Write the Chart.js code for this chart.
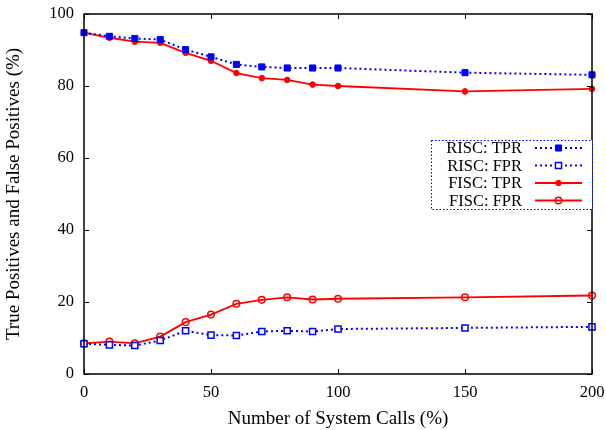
<!DOCTYPE html>
<html>
<head>
<meta charset="utf-8">
<script src="https://cdn.jsdelivr.net/npm/chart.js@4/dist/chart.umd.min.js"></script>
<style>
  html, body { margin: 0; padding: 0; background: #fff; }
  #wrap { width: 606px; height: 430px; position: relative; }
</style>
</head>
<body>
<div id="wrap"><canvas id="c"></canvas></div>
<script>
var calls = [0, 10, 20, 30, 40, 50, 60, 70, 80, 90, 100, 150, 200];
var riscTPR = [94.8, 93.8, 93.2, 92.9, 90.1, 88.1, 86.0, 85.3, 85.0, 85.0, 85.0, 83.7, 83.1];
var riscFPR = [8.4, 8.1, 7.9, 9.3, 12.0, 10.8, 10.7, 11.8, 12.0, 11.8, 12.5, 12.8, 13.1];
var fiscTPR = [94.8, 93.4, 92.3, 92.0, 89.2, 87.0, 83.6, 82.2, 81.7, 80.4, 80.0, 78.5, 79.2];
var fiscFPR = [8.5, 9.0, 8.5, 10.4, 14.4, 16.5, 19.5, 20.6, 21.3, 20.7, 20.9, 21.3, 21.8];
var xTicks = [0, 50, 100, 150, 200];
var yTicks = [0, 20, 40, 60, 80, 100];

var FONT = '"Liberation Serif", "DejaVu Serif", serif';

function pts(vals) {
    return calls.map(function (x, i) { return {x: x, y: vals[i]}; });
}

// gnuplot style frame with inward ticks on all four sides
var framePlugin = {
    id: 'frame',
    afterDatasetsDraw: function (chart) {
        var ctx = chart.ctx, a = chart.chartArea;
        var sx = chart.scales.x, sy = chart.scales.y;
        var len = 5;
        ctx.save();
        ctx.strokeStyle = '#000';
        ctx.lineWidth = 1.5;
        ctx.strokeRect(a.left, a.top, a.right - a.left, a.bottom - a.top);
        ctx.lineWidth = 1;
        ctx.beginPath();
        xTicks.forEach(function (v) {
            var px = Math.round(sx.getPixelForValue(v)) + 0.5;
            ctx.moveTo(px, a.bottom); ctx.lineTo(px, a.bottom - len);
            ctx.moveTo(px, a.top); ctx.lineTo(px, a.top + len);
        });
        yTicks.forEach(function (v) {
            var py = Math.round(sy.getPixelForValue(v)) + 0.5;
            ctx.moveTo(a.left, py); ctx.lineTo(a.left + len, py);
            ctx.moveTo(a.right, py); ctx.lineTo(a.right - len, py);
        });
        ctx.stroke();
        ctx.restore();
    }
};

// key box like the original, drawn from the dataset styles
var keyPlugin = {
    id: 'key',
    afterDraw: function (chart) {
        var ctx = chart.ctx;
        var box = {x: 431, y: 140, w: 161, h: 69};
        ctx.save();
        ctx.fillStyle = '#fff';
        ctx.fillRect(box.x, box.y, box.w, box.h);
        ctx.strokeStyle = '#0000ff';
        ctx.lineWidth = 1;
        ctx.setLineDash([1.5, 2]);
        ctx.strokeRect(box.x + 0.5, box.y + 0.5, box.w, box.h);
        ctx.setLineDash([]);
        ctx.font = '16.5px ' + FONT;
        ctx.textAlign = 'right';
        ctx.textBaseline = 'middle';
        chart.data.datasets.forEach(function (ds, i) {
            var y = 148 + i * 17.5;
            ctx.fillStyle = '#000';
            ctx.fillText(ds.label, 522, y + 1);
            ctx.strokeStyle = ds.borderColor;
            ctx.lineWidth = ds.borderWidth;
            ctx.setLineDash(ds.borderDash || []);
            ctx.beginPath();
            ctx.moveTo(535, y); ctx.lineTo(582, y);
            ctx.stroke();
            ctx.setLineDash([]);
            var cx = 558.5, r = ds.pointRadius;
            ctx.lineWidth = ds.pointBorderWidth;
            ctx.strokeStyle = ds.pointBorderColor;
            ctx.fillStyle = ds.pointBackgroundColor;
            ctx.beginPath();
            if (ds.pointStyle === 'rect') {
                var s = r * Math.SQRT2 / 2;
                ctx.rect(cx - s, y - s, 2 * s, 2 * s);
            } else {
                ctx.arc(cx, y, r, 0, Math.PI * 2);
            }
            ctx.fill();
            ctx.stroke();
        });
        ctx.restore();
    }
};

new Chart(document.getElementById('c'), {
    type: 'line',
    data: {
        datasets: [
            {
                label: 'RISC: TPR', data: pts(riscTPR),
                borderColor: '#0000ff', borderWidth: 2, borderDash: [2, 3],
                pointStyle: 'rect', pointRadius: 4.3, pointBorderWidth: 1,
                pointBackgroundColor: '#0000ff', pointBorderColor: '#0000ff'
            },
            {
                label: 'RISC: FPR', data: pts(riscFPR),
                borderColor: '#0000ff', borderWidth: 2, borderDash: [2, 3],
                pointStyle: 'rect', pointRadius: 4.3, pointBorderWidth: 1.5,
                pointBackgroundColor: '#fff', pointBorderColor: '#0000ff'
            },
            {
                label: 'FISC: TPR', data: pts(fiscTPR),
                borderColor: '#ff0000', borderWidth: 1.8,
                pointStyle: 'circle', pointRadius: 2.8, pointBorderWidth: 1,
                pointBackgroundColor: '#ff0000', pointBorderColor: '#ff0000'
            },
            {
                label: 'FISC: FPR', data: pts(fiscFPR),
                borderColor: '#ff0000', borderWidth: 1.8,
                pointStyle: 'circle', pointRadius: 3.3, pointBorderWidth: 1.5,
                pointBackgroundColor: 'rgba(255,255,255,0)', pointBorderColor: '#ff0000'
            }
        ]
    },
    options: {
        responsive: true,
        maintainAspectRatio: false,
        animation: false,
        layout: {autoPadding: false, padding: {left: 0, right: 14, top: 14, bottom: 0}},
        elements: {line: {tension: 0}},
        plugins: {legend: {display: false}, tooltip: {enabled: false}},
        datasets: {line: {clip: false}},
        scales: {
            x: {
                type: 'linear', min: 0, max: 200,
                grid: {display: false, drawTicks: false},
                border: {display: false},
                afterBuildTicks: function (s) { s.ticks = xTicks.map(function (v) { return {value: v}; }); },
                afterFit: function (s) { s.height = 56; s.paddingRight = 0; s.paddingLeft = 0; },
                ticks: {color: '#000', padding: 9, maxRotation: 0, font: {family: FONT, size: 16.5}},
                title: {display: true, text: 'Number of System Calls (%)', color: '#000', padding: {top: 2, bottom: 0}, font: {family: FONT, size: 19}}
            },
            y: {
                min: 0, max: 100,
                grid: {display: false, drawTicks: false},
                border: {display: false},
                afterBuildTicks: function (s) { s.ticks = yTicks.map(function (v) { return {value: v}; }); },
                afterFit: function (s) { s.width = 84; s.paddingTop = 0; s.paddingBottom = 0; },
                ticks: {color: '#000', padding: 10, font: {family: FONT, size: 16.5}},
                title: {display: true, text: 'True Positives and False Positives (%)', color: '#000', padding: {top: 3, bottom: 4}, font: {family: FONT, size: 19}}
            }
        }
    },
    plugins: [framePlugin, keyPlugin]
});
</script>
</body>
</html>
